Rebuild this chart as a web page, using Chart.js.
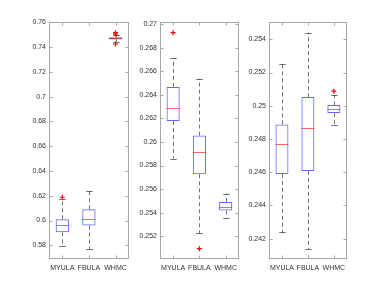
<!DOCTYPE html>
<html>
<head>
<meta charset="utf-8">
<script src="https://cdn.jsdelivr.net/npm/chart.js@4/dist/chart.umd.min.js"></script>
<style>
    html, body { margin: 0; padding: 0; background: #fff; }
    #wrap { position: relative; width: 389px; height: 292px; overflow: hidden; }
    .panel { position: absolute; top: 0; height: 292px; }
</style>
</head>
<body>
<div id="wrap">
    <div class="panel" id="p1" style="left:0px;width:134px;"><canvas id="c1"></canvas></div>
    <div class="panel" id="p2" style="left:125px;width:119px;"><canvas id="c2"></canvas></div>
    <div class="panel" id="p3" style="left:240px;width:112px;"><canvas id="c3"></canvas></div>
</div>
<script>
// Categories shared by all three panels
const categories = ['MYULA', 'FBULA', 'WHMC'];

// Panel 1 box statistics (per category)
const p1Low    = [0.5795, 0.5768, 0.7441];
const p1Q1     = [0.5905, 0.5959, 0.7462];
const p1Median = [0.5962, 0.6015, 0.7471];
const p1Q3     = [0.6010, 0.6091, 0.7480];
const p1High   = [0.6171, 0.6238, 0.7496];
const p1Outliers = [[0.6188], [], [0.7516, 0.7505, 0.7425]];
const p1Ticks  = [0.58, 0.60, 0.62, 0.64, 0.66, 0.68, 0.70, 0.72, 0.74, 0.76];

// Panel 2
const p2Low    = [0.25859, 0.25226, 0.25353];
const p2Q1     = [0.26178, 0.25726, 0.25418];
const p2Median = [0.26291, 0.25913, 0.25451];
const p2Q3     = [0.26467, 0.26054, 0.25491];
const p2High   = [0.26710, 0.26537, 0.25562];
const p2Outliers = [[0.26927], [0.25095], []];
const p2Ticks  = [0.252, 0.254, 0.256, 0.258, 0.260, 0.262, 0.264, 0.266, 0.268, 0.270];

// Panel 3
const p3Low    = [0.24238, 0.24138, 0.24884];
const p3Q1     = [0.24590, 0.24608, 0.24956];
const p3Median = [0.24768, 0.24868, 0.24980];
const p3Q3     = [0.24888, 0.25052, 0.25004];
const p3High   = [0.25250, 0.25440, 0.25066];
const p3Outliers = [[], [], [0.25088]];
const p3Ticks  = [0.242, 0.244, 0.246, 0.248, 0.250, 0.252, 0.254];

const FONT = { family: 'Liberation Sans, Arial, sans-serif', size: 7 };
const TEXT = '#333';
const AXIS = '#a8a8a8';

// Draws whiskers, caps, medians and the MATLAB-like axis box with inward ticks
const boxPlotPlugin = {
    id: 'boxPlot',
    beforeDatasetsDraw(chart) {
        const st = chart.options.plugins.boxPlot;
        const x = chart.scales.x, y = chart.scales.y;
        const ctx = chart.ctx;
        const step = x.getPixelForValue(1) - x.getPixelForValue(0);
        const capHalf = step * 0.125;
        ctx.save();
        ctx.lineWidth = 1;
        ctx.strokeStyle = 'rgba(0,0,0,0.55)';
        st.low.forEach((v, i) => {
            const cx = Math.round(x.getPixelForValue(i)) + 0.5;
            const pts = [[st.q3[i], st.high[i]], [st.q1[i], st.low[i]]];
            ctx.setLineDash([4, 3]);
            pts.forEach(([a, b]) => {
                ctx.beginPath();
                ctx.moveTo(cx, y.getPixelForValue(a));
                ctx.lineTo(cx, y.getPixelForValue(b));
                ctx.stroke();
            });
            ctx.setLineDash([]);
            [st.high[i], st.low[i]].forEach(v2 => {
                const py = Math.round(y.getPixelForValue(v2)) + 0.5;
                ctx.beginPath();
                ctx.moveTo(cx - capHalf, py);
                ctx.lineTo(cx + capHalf, py);
                ctx.stroke();
            });
        });
        ctx.restore();
    },
    afterDatasetsDraw(chart) {
        const st = chart.options.plugins.boxPlot;
        const x = chart.scales.x, y = chart.scales.y;
        const ctx = chart.ctx;
        const area = chart.chartArea;
        const step = x.getPixelForValue(1) - x.getPixelForValue(0);
        const half = step * 0.25;
        ctx.save();
        ctx.lineWidth = 1;
        ctx.strokeStyle = 'rgba(255,0,0,0.6)';
        st.median.forEach((v, i) => {
            const cx = x.getPixelForValue(i);
            const py = Math.round(y.getPixelForValue(v)) + 0.5;
            ctx.beginPath();
            ctx.moveTo(cx - half, py);
            ctx.lineTo(cx + half, py);
            ctx.stroke();
        });
        // axis box
        ctx.strokeStyle = AXIS;
        const l = Math.round(area.left) + 0.5, r = Math.round(area.right) - 0.5;
        const t = Math.round(area.top) + 0.5, b = Math.round(area.bottom) - 0.5;
        ctx.strokeRect(l, t, r - l, b - t);
        ctx.beginPath();
        y.ticks.forEach(tk => {
            const py = Math.round(y.getPixelForValue(tk.value)) + 0.5;
            ctx.moveTo(l, py); ctx.lineTo(l + 3, py);
            ctx.moveTo(r, py); ctx.lineTo(r - 3, py);
        });
        categories.forEach((c, i) => {
            const px = Math.round(x.getPixelForValue(i)) + 0.5;
            ctx.moveTo(px, t); ctx.lineTo(px, t + 3);
            ctx.moveTo(px, b); ctx.lineTo(px, b - 3);
        });
        ctx.stroke();
        ctx.restore();
    }
};

function makePanel(id, low, q1, median, q3, high, outliers, ticks, yMin, yMax, yWidth) {
    const outlierPoints = [];
    outliers.forEach((list, i) => list.forEach(v => outlierPoints.push({ x: categories[i], y: v })));
    return new Chart(document.getElementById(id), {
        type: 'bar',
        data: {
            labels: categories,
            datasets: [
                {
                    label: 'box',
                    data: q1.map((v, i) => [v, q3[i]]),
                    backgroundColor: 'rgba(0,0,0,0)',
                    borderColor: 'rgba(0,0,255,0.6)',
                    borderWidth: 1,
                    borderSkipped: false,
                    barPercentage: 0.5,
                    categoryPercentage: 1.0,
                },
                {
                    type: 'line',
                    label: 'outliers',
                    data: outlierPoints,
                    showLine: false,
                    pointStyle: 'cross',
                    pointRadius: 2.5,
                    borderColor: '#ff0000',
                    borderWidth: 1.2,
                },
            ],
        },
        options: {
            responsive: true,
            maintainAspectRatio: false,
            animation: false,
            layout: { padding: { top: 22, right: 1, left: 0, bottom: 0 } },
            plugins: {
                legend: { display: false },
                tooltip: { enabled: false },
                boxPlot: { low, q1, median, q3, high },
            },
            scales: {
                x: {
                    offset: true,
                    grid: { display: false, drawTicks: false },
                    border: { display: false },
                    ticks: { color: TEXT, font: FONT, padding: 5, maxRotation: 0, autoSkip: false },
                    afterFit: s => { s.height = 33; },
                },
                y: {
                    min: yMin,
                    max: yMax,
                    grid: { display: false, drawTicks: false },
                    border: { display: false },
                    ticks: {
                        color: TEXT, font: FONT, padding: 3,
                        callback: v => String(parseFloat(v.toFixed(4))),
                    },
                    afterBuildTicks: s => { s.ticks = ticks.map(v => ({ value: v })); },
                    afterFit: s => { s.width = yWidth; },
                },
            },
        },
        plugins: [boxPlotPlugin],
    });
}

makePanel('c1', p1Low, p1Q1, p1Median, p1Q3, p1High, p1Outliers, p1Ticks, 0.56894, 0.76024, 49);
makePanel('c2', p2Low, p2Q1, p2Median, p2Q3, p2High, p2Outliers, p2Ticks, 0.25007, 0.27018, 35);
makePanel('c3', p3Low, p3Q1, p3Median, p3Q3, p3High, p3Outliers, p3Ticks, 0.24078, 0.25504, 29);
</script>
</body>
</html>
